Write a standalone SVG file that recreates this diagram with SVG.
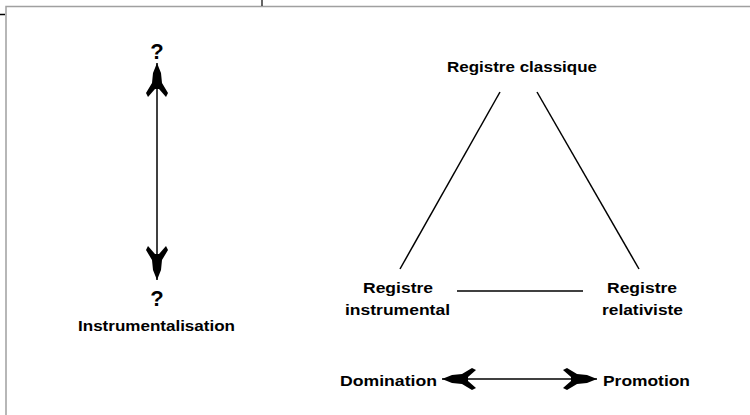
<svg xmlns="http://www.w3.org/2000/svg" width="750" height="415" viewBox="0 0 750 415">
<style>
.t{font-family:"Liberation Sans",Arial,sans-serif;font-weight:bold;font-size:15px;fill:#000;text-anchor:middle}
.q{font-size:22px}
.ln{stroke:#000;stroke-width:1.5;fill:none}
.fr{stroke:#a0a0a0;stroke-width:1.5;fill:none}
</style>
<defs>
<marker id="ah" viewBox="-35 -12 36 24" refX="0" refY="0" markerWidth="36" markerHeight="24" markerUnits="userSpaceOnUse" orient="auto-start-reverse">
<path d="M0,0 L-10,-4 L-20,-5 L-30,-11 L-34,-9 L-26,-2 L-26,2 L-34,9 L-30,11 L-20,5 L-10,4 Z" fill="#000"/>
</marker>
</defs>
<rect width="750" height="415" fill="#fff"/>
<g id="frame">
<path class="fr" d="M6,415 V6.5 H750"/>
<path d="M262,0 V6" stroke="#333" stroke-width="1.5"/>
<path d="M0,14.5 H5" stroke="#000" stroke-width="1.5"/>
</g>
<g id="connectors">
<line class="ln" x1="157" y1="63" x2="157" y2="280" marker-start="url(#ah)" marker-end="url(#ah)"/>
<line class="ln" x1="500" y1="92" x2="400" y2="269"/>
<line class="ln" x1="537" y1="92" x2="639" y2="269"/>
<line class="ln" x1="457" y1="291" x2="583" y2="291"/>
<line class="ln" x1="442" y1="379" x2="597" y2="379" marker-start="url(#ah)" marker-end="url(#ah)"/>
</g>
<g id="q-top"><text class="t q" x="157" y="59">?</text></g>
<g id="q-bottom"><text class="t q" x="157" y="306">?</text></g>
<g id="instrumentalisation"><text class="t" x="156.5" y="331" textLength="157" lengthAdjust="spacingAndGlyphs">Instrumentalisation</text></g>
<g id="registre-classique"><text class="t" x="522" y="72" textLength="150" lengthAdjust="spacingAndGlyphs">Registre classique</text></g>
<g id="registre-instrumental">
<text class="t" x="398" y="293" textLength="70" lengthAdjust="spacingAndGlyphs">Registre</text>
<text class="t" x="397.5" y="315" textLength="105" lengthAdjust="spacingAndGlyphs">instrumental</text>
</g>
<g id="registre-relativiste">
<text class="t" x="642" y="293" textLength="70" lengthAdjust="spacingAndGlyphs">Registre</text>
<text class="t" x="642.5" y="315" textLength="81" lengthAdjust="spacingAndGlyphs">relativiste</text>
</g>
<g id="domination"><text class="t" x="388.5" y="386" textLength="97" lengthAdjust="spacingAndGlyphs">Domination</text></g>
<g id="promotion"><text class="t" x="646.5" y="386" textLength="87" lengthAdjust="spacingAndGlyphs">Promotion</text></g>
</svg>
